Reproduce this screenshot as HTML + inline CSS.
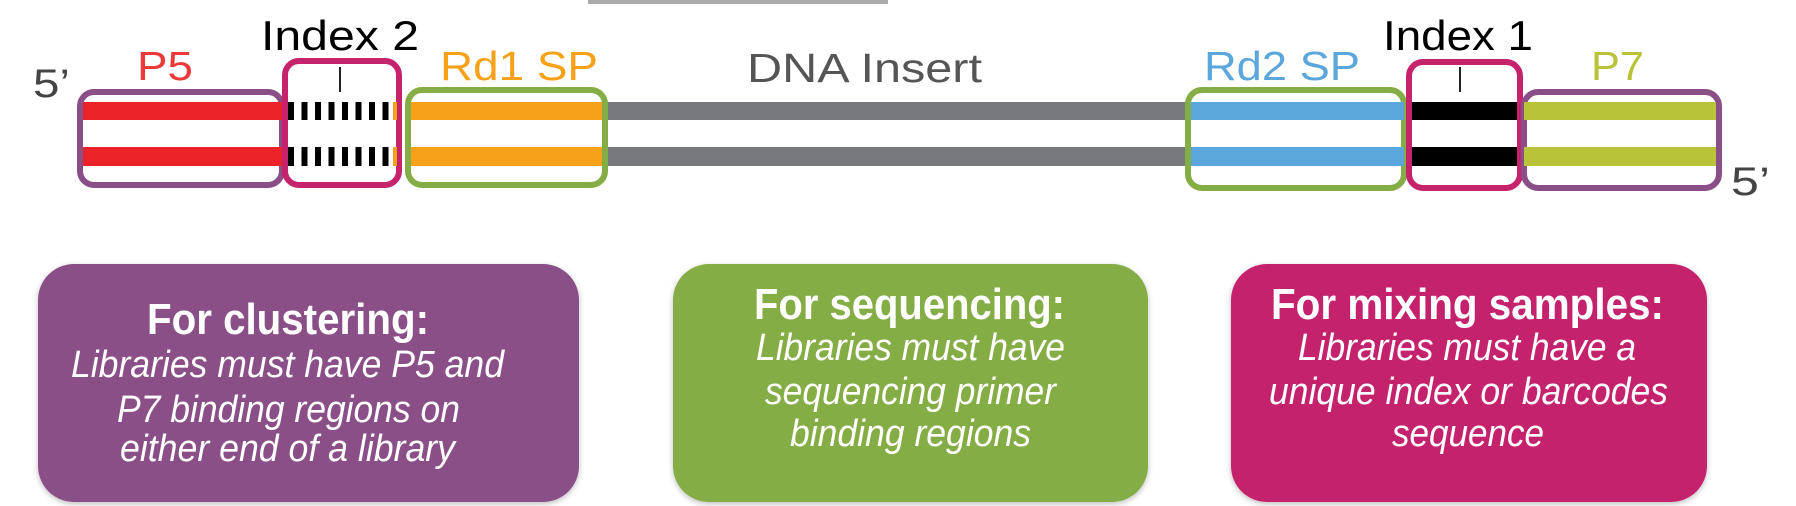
<!DOCTYPE html>
<html><head><meta charset="utf-8"><style>
html,body{margin:0;padding:0;background:#fff;width:1796px;height:506px;overflow:hidden}
svg{display:block}
text{font-family:"Liberation Sans",Arial,sans-serif}
</style></head><body>
<svg width="1796" height="506" viewBox="0 0 1796 506" xmlns="http://www.w3.org/2000/svg">
<defs>
<filter id="sh" x="-5%" y="-5%" width="110%" height="115%"><feDropShadow dx="0" dy="2" stdDeviation="3" flood-color="#000" flood-opacity="0.25"/></filter>
</defs>
<rect x="588" y="0" width="300" height="4" fill="#aaa"/>
<rect x="600" y="102" width="590" height="18" fill="#77787b"/>
<rect x="600" y="147" width="590" height="19" fill="#77787b"/>
<rect x="80" y="92" width="202" height="93" rx="14" fill="#fff" stroke="#8b4f87" stroke-width="6"/>
<rect x="83" y="102" width="199" height="18" fill="#ec2229"/>
<rect x="83" y="147" width="199" height="19" fill="#ec2229"/>
<rect x="285" y="61" width="114" height="124" rx="14" fill="#fff" stroke="#c5246d" stroke-width="6"/>
<g fill="#000">
<rect x="288" y="102" width="6" height="18"/><rect x="301.5" y="102" width="6" height="18"/><rect x="315" y="102" width="6" height="18"/><rect x="328.5" y="102" width="6" height="18"/><rect x="342" y="102" width="6" height="18"/><rect x="355.5" y="102" width="6" height="18"/><rect x="369" y="102" width="6" height="18"/><rect x="382.5" y="102" width="6" height="18"/>
<rect x="288" y="147" width="6" height="19"/><rect x="301.5" y="147" width="6" height="19"/><rect x="315" y="147" width="6" height="19"/><rect x="328.5" y="147" width="6" height="19"/><rect x="342" y="147" width="6" height="19"/><rect x="355.5" y="147" width="6" height="19"/><rect x="369" y="147" width="6" height="19"/><rect x="382.5" y="147" width="6" height="19"/>
</g>
<rect x="393" y="102" width="4" height="18" fill="#f7a11a"/><rect x="393" y="147" width="4" height="19" fill="#f7a11a"/>
<rect x="339" y="67" width="2" height="25" fill="#222"/>
<rect x="408" y="90" width="197" height="95" rx="14" fill="#fff" stroke="#84ad45" stroke-width="6"/>
<rect x="411" y="102" width="191" height="18" fill="#f7a11a"/>
<rect x="411" y="147" width="191" height="19" fill="#f7a11a"/>
<rect x="1188" y="90" width="216" height="98" rx="14" fill="#fff" stroke="#84ad45" stroke-width="6"/>
<rect x="1191" y="102" width="213" height="18" fill="#5ba7dc"/>
<rect x="1191" y="147" width="213" height="19" fill="#5ba7dc"/>
<rect x="1409" y="62" width="111" height="126" rx="14" fill="#fff" stroke="#c5246d" stroke-width="6"/>
<rect x="1412" y="102" width="105" height="18" fill="#000"/>
<rect x="1412" y="147" width="105" height="19" fill="#000"/>
<rect x="1459" y="67" width="2" height="25" fill="#222"/>
<rect x="1524" y="92" width="195" height="96" rx="14" fill="#fff" stroke="#8b4f87" stroke-width="6"/>
<rect x="1524" y="102" width="192" height="18" fill="#b9c339"/>
<rect x="1524" y="147" width="192" height="19" fill="#b9c339"/>
<text x="33" y="97" font-size="40" fill="#444" textLength="37" lengthAdjust="spacingAndGlyphs">5’</text>
<text x="137" y="80" font-size="41" fill="#ec3a3a" textLength="56" lengthAdjust="spacingAndGlyphs">P5</text>
<text x="261" y="50" font-size="42" fill="#000" textLength="158" lengthAdjust="spacingAndGlyphs">Index 2</text>
<text x="440" y="80" font-size="41" fill="#f7a11a" textLength="158" lengthAdjust="spacingAndGlyphs">Rd1 SP</text>
<text x="747" y="82" font-size="41" fill="#555" textLength="235" lengthAdjust="spacingAndGlyphs">DNA Insert</text>
<text x="1204" y="80" font-size="41" fill="#5ba7dc" textLength="156" lengthAdjust="spacingAndGlyphs">Rd2 SP</text>
<text x="1383" y="50" font-size="42" fill="#000" textLength="150" lengthAdjust="spacingAndGlyphs">Index 1</text>
<text x="1591" y="80" font-size="41" fill="#b9c339" textLength="53" lengthAdjust="spacingAndGlyphs">P7</text>
<text x="1731" y="195" font-size="40" fill="#444" textLength="39" lengthAdjust="spacingAndGlyphs">5’</text>
<rect x="38" y="264" width="541" height="238" rx="36" fill="#8b4f87" filter="url(#sh)"/>
<rect x="673" y="264" width="475" height="238" rx="36" fill="#84ad45" filter="url(#sh)"/>
<rect x="1231" y="264" width="476" height="238" rx="36" fill="#c5246d" filter="url(#sh)"/>
<g fill="#fff">
<text x="147" y="334" font-size="44" font-weight="bold" textLength="282" lengthAdjust="spacingAndGlyphs">For clustering:</text>
<g font-style="italic" font-size="38">
<text x="71" y="377" textLength="433" lengthAdjust="spacingAndGlyphs">Libraries must have P5 and</text>
<text x="117" y="422" textLength="343" lengthAdjust="spacingAndGlyphs">P7 binding regions on</text>
<text x="120" y="461" textLength="335" lengthAdjust="spacingAndGlyphs">either end of a library</text>
</g>
<text x="754" y="319" font-size="44" font-weight="bold" textLength="311" lengthAdjust="spacingAndGlyphs">For sequencing:</text>
<g font-style="italic" font-size="38">
<text x="756" y="360" textLength="309" lengthAdjust="spacingAndGlyphs">Libraries must have</text>
<text x="765" y="404" textLength="291" lengthAdjust="spacingAndGlyphs">sequencing primer</text>
<text x="790" y="446" textLength="241" lengthAdjust="spacingAndGlyphs">binding regions</text>
</g>
<text x="1271" y="319" font-size="44" font-weight="bold" textLength="393" lengthAdjust="spacingAndGlyphs">For mixing samples:</text>
<g font-style="italic" font-size="38">
<text x="1298" y="360" textLength="338" lengthAdjust="spacingAndGlyphs">Libraries must have a</text>
<text x="1269" y="404" textLength="399" lengthAdjust="spacingAndGlyphs">unique index or barcodes</text>
<text x="1392" y="446" textLength="152" lengthAdjust="spacingAndGlyphs">sequence</text>
</g>
</g>
</svg>
</body></html>
